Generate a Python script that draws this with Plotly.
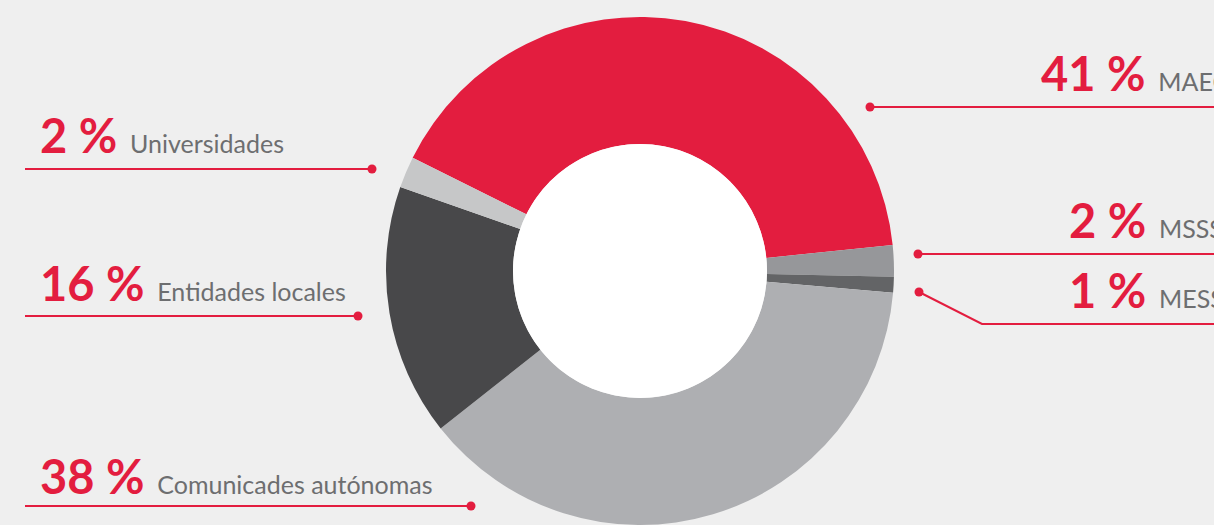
import plotly.graph_objects as go

# ---- data ----
categories = ["MAEC", "MSSSI", "MESS", "Comunicades autónomas", "Entidades locales", "Universidades"]
values = [41, 2, 1, 38, 16, 2]
pct_labels = ["41 %", "2 %", "1 %", "38 %", "16 %", "2 %"]

# ---- styles ----
colors = ["#e31d3f", "#96979a", "#636466", "#aeafb2", "#48484a", "#c6c7c8"]
RED = "#e31d3f"
GREY_TXT = "#6d6e70"
BG = "#efefef"
W, H = 1214, 525

# pie geometry (pixels)
CX, CY, R = 640, 271, 254
HOLE = 0.5

def px(x):
    return x / W

def py(y):
    return 1 - y / H

# callout layout (pixels): text left x, text baseline y, line path, dot
callouts = {
    "MAEC":                  dict(tx=1040, ty=90,  path=[(870, 107), (1230, 107)], dot=(870, 107)),
    "MSSSI":                 dict(tx=1068, ty=237, path=[(918, 254), (1230, 254)], dot=(918, 254)),
    "MESS":                  dict(tx=1068, ty=307, path=[(919, 292), (982, 324), (1230, 324)], dot=(919, 292)),
    "Comunicades autónomas": dict(tx=39,   ty=493, path=[(25, 506), (471, 506)], dot=(471, 506)),
    "Entidades locales":     dict(tx=39,   ty=300, path=[(25, 316), (358, 316)], dot=(358, 316)),
    "Universidades":         dict(tx=39,   ty=152, path=[(25, 169), (372, 169)], dot=(372, 169)),
}

fig = go.Figure()
fig.add_trace(go.Pie(
    labels=categories, values=values, sort=False, direction="clockwise",
    rotation=-63.5, hole=HOLE, textinfo="none", hoverinfo="label+percent",
    marker=dict(colors=colors, line=dict(width=0)),
    domain=dict(x=[px(CX - R), px(CX + R)], y=[py(CY + R), py(CY - R)]),
    showlegend=False,
))
# white centre disc
ri = R * HOLE
fig.add_trace(go.Pie(
    values=[1], labels=[""], sort=False, textinfo="none", hoverinfo="skip",
    marker=dict(colors=["#ffffff"], line=dict(width=0)),
    domain=dict(x=[px(CX - ri), px(CX + ri)], y=[py(CY + ri), py(CY - ri)]),
    showlegend=False,
))

shapes = []
annotations = []
for cat, pl in zip(categories, pct_labels):
    c = callouts[cat]
    path = "M " + " L ".join(f"{px(x)},{py(y)}" for x, y in c["path"])
    shapes.append(dict(type="path", xref="paper", yref="paper", path=path,
                       line=dict(color=RED, width=2)))
    dx, dy = c["dot"]
    shapes.append(dict(type="circle", xref="paper", yref="paper",
                       xsizemode="pixel", ysizemode="pixel",
                       xanchor=px(dx), yanchor=py(dy),
                       x0=-4.5, x1=4.5, y0=-4.5, y1=4.5,
                       fillcolor=RED, line=dict(width=0)))
    num = pl.replace(" ", "&nbsp;")
    text = (f"<b><span style='font-size:47px;color:{RED}'>{num}</span></b>"
            f"<span style='font-size:25px;color:{GREY_TXT}'>&nbsp;&nbsp;{cat}</span>")
    annotations.append(dict(xref="paper", yref="paper", x=px(c["tx"]), y=py(c["ty"] + 12),
                            xanchor="left", yanchor="bottom", showarrow=False,
                            text=text, font=dict(family="Lato", size=25, color=GREY_TXT),
                            borderpad=0))

fig.update_layout(
    width=W, height=H, margin=dict(l=0, r=0, t=0, b=0),
    paper_bgcolor=BG, plot_bgcolor=BG,
    shapes=shapes, annotations=annotations, showlegend=False,
)

fig.write_html("out.html")
